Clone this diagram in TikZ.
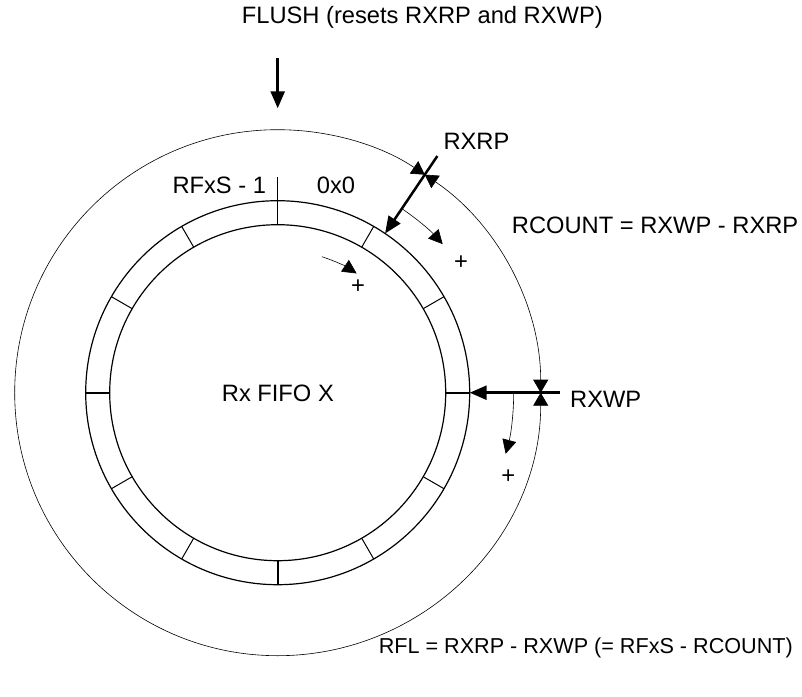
\documentclass[tikz,border=0pt]{standalone}
\usepackage{fontspec}
\setmainfont{Liberation Sans}
\usetikzlibrary{arrows.meta}
\begin{document}
\begin{tikzpicture}[x=1pt,y=1pt,font=\fontsize{23.7}{28}\selectfont,
    lbl/.style={anchor=base west,inner sep=0pt},
    plus/.style={inner sep=0pt},
    ptr/.style={line width=2.5pt,-{Triangle[length=17pt,width=14pt]}},
    cnt/.style={line width=.6pt,{Triangle[length=13pt,width=15pt]}-{Triangle[length=13pt,width=15pt]}},
    inc/.style={line width=.6pt,-{Triangle[length=14pt,width=14pt]}}]
    \useasboundingbox (-277.7,-303.3) rectangle (524.3,392.7);
    \def\ri{168}%vòng trong
    \def\ro{192}%vòng ngoài
    \def\rb{263}%vòng lớn
    \def\ap{56}%góc RXRP
    \coordinate (c) at (0,0);
    \draw[line width=1.2pt] (c) circle (\ri) (c) circle (\ro);
    \foreach \a in {30,60,120,150,210,240,300,330}
        \draw[line width=1pt] (\a:\ri)--(\a:\ro);
    \foreach \a in {0,180,270} \draw[line width=2pt] (\a:\ri)--(\a:\ro);
    \draw[line width=1pt] (90:\ri)--(90:216);
    % con trỏ
    \path (\ap:285.5) coordinate (rp) (\ap:\ro) coordinate (rp0)
        (0:282) coordinate (wp) (0:\ro) coordinate (wp0)
        (0,334.4) coordinate (fl) (0,284.4) coordinate (fl0);
    \foreach \a/\b in {rp/rp0,wp/wp0,fl/fl0} \draw[ptr] (\a)--(\b);
    \draw[cnt] (\ap:\rb) arc (\ap:0:\rb);
    \draw[cnt] (0:\rb) arc (0:\ap-360:\rb);
    \foreach \r/\s/\e in {222/\ap/42,143/72/56.5,236/0/-15}
        \draw[inc] (\s:\r) arc (\s:\e:\r);
    \path
    foreach \p/\n in {{(183.3,130.4)}/p1,{(80.3,106)}/p2,{(230.6,-84)}/p3} {\p node[plus] (\n) {+}}
    (-36,369.4) node[lbl] (flush) {FLUSH (resets RXRP and RXWP)}
    (165.6,242.7) node[lbl] (rxrp) {RXRP}
    (234,158.7) node[lbl] (rcount) {RCOUNT = RXWP - RXRP}
    (-105.4,199.4) node[lbl] (last) {RFxS - 1}
    (39,199.4) node[lbl] (first) {0x0}
    (-56,-9) node[lbl] (fifo) {Rx FIFO X}
    (292.3,-15) node[lbl] (rxwp) {RXWP}
    (515.3,-260.6) node[lbl,anchor=base east,font=\fontsize{21.6}{26}\selectfont] (rfl) {RFL = RXRP - RXWP (= RFxS - RCOUNT)};
\end{tikzpicture}
\end{document}
